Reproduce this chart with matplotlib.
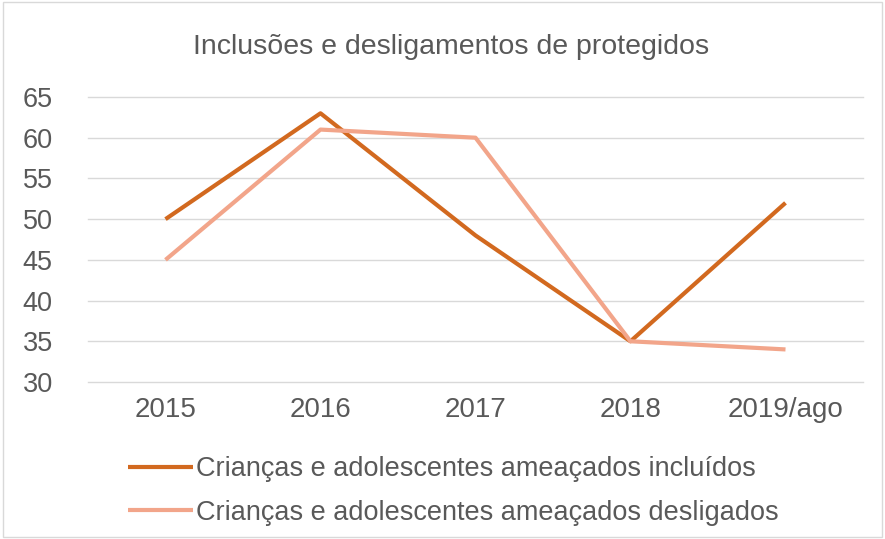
import matplotlib.pyplot as plt
from matplotlib.patches import Rectangle

# dados
anos = ["2015", "2016", "2017", "2018", "2019/ago"]
incluidos = [50, 63, 48, 35, 52]
desligados = [45, 61, 60, 35, 34]
rotulos = ["Crianças e adolescentes ameaçados incluídos",
           "Crianças e adolescentes ameaçados desligados"]

plt.rcParams['font.family'] = ['Liberation Sans', 'DejaVu Sans']
cinza = '#595959'

fig = plt.figure(figsize=(8.85, 5.39), dpi=100)
ax = fig.add_axes([88/885, 1-382/539, (863-88)/885, (382-97)/539])

x = range(len(anos))
ax.plot(x, incluidos, color='#D2691F', lw=3, solid_capstyle='butt', label=rotulos[0])
ax.plot(x, desligados, color='#F2A58A', lw=3, solid_capstyle='butt', label=rotulos[1])

ax.set_xlim(-0.5, len(anos) - 0.5)
ax.set_ylim(30, 65)
ax.set_yticks(range(30, 66, 5))
ax.set_xticks(list(x))
ax.set_xticklabels(anos)
ax.grid(axis='y', color='#D9D9D9', lw=1)
for g in ax.get_ygridlines():
    g.set_clip_on(False)
ax.set_axisbelow(True)
for s in ax.spines.values():
    s.set_visible(False)
ax.tick_params(length=0, labelcolor=cinza)
ax.tick_params(axis='y', pad=47, labelsize=19.5)
ax.tick_params(axis='x', pad=11, labelsize=20)
for t in ax.get_yticklabels():
    t.set_horizontalalignment('left')

fig.text(451/885, 1-47/539, "Inclusões e desligamentos de protegidos",
         ha='center', va='center', fontsize=20.5, color=cinza)

fig.legend(loc='upper left', bbox_to_anchor=(128/885, 1-456/539), frameon=False,
           fontsize=19.5, labelcolor=cinza, handlelength=2.4, handletextpad=0.1,
           labelspacing=0.65, borderaxespad=0, borderpad=0)

# moldura
fig.patches.append(Rectangle((0.003, 0.003), 0.994, 0.994, transform=fig.transFigure,
                             fill=False, edgecolor='#D9D9D9', lw=1))

fig.savefig('out.png', dpi=100)
